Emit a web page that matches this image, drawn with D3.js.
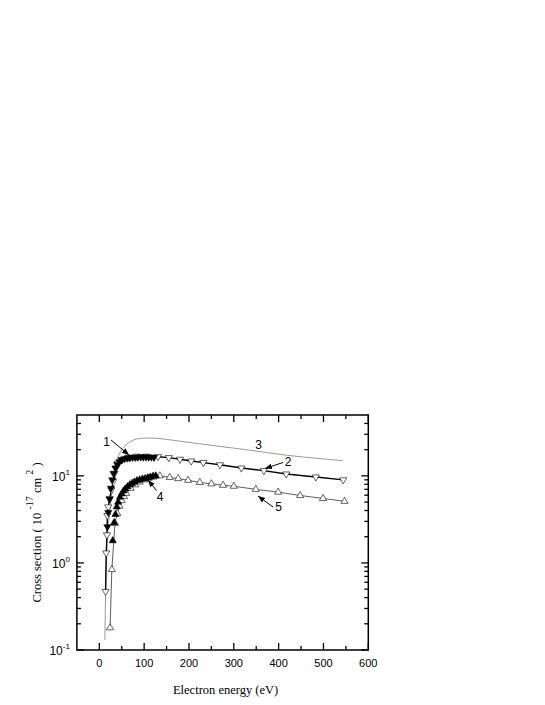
<!DOCTYPE html>
<html><head><meta charset="utf-8">
<script src="https://cdn.jsdelivr.net/npm/d3@7"></script>
<style>body{margin:0;background:#fff}</style>
</head><body>
<svg id="c" width="545" height="705"></svg>
<script>
// ---- data (energy eV, cross section 1e-17 cm^2) ----
const s1E = [18,20,23,26,29,32,36,40,45,50,56,62,68,74,80,86,92,98,104,110,116,122];
const s1V = [2.6,3.8,5.4,7.2,9.0,10.6,12.3,13.5,14.5,15.2,15.7,16.0,16.1,16.3,16.3,16.4,16.5,16.4,16.5,16.4,16.4,16.3];

const s2E = [14,15.5,17,18,20,23,27,31,34,37,41,50,65,83,105,131,155,180,205,232,269,317,367,417,483,544];
const s2V = [0.47,1.3,2.1,3.5,4.4,5.5,6.9,8.6,10.7,12.2,14,15.4,16.4,16.8,16.8,16.6,16.2,15.5,14.8,14.2,13.4,12.3,11.5,10.5,9.7,9.0];

const s3E = [12.5,14,16,18,21,24,28,32,36,42,50,60,70,83,100,115,140,180,220,269,320,370,420,480,544];
const s3V = [0.13,0.5,1.2,2.0,3.0,4.1,6.5,9.5,12.8,16.5,19.9,22.8,24.8,26.5,27.1,27.2,26.6,25,23.5,21.8,20.2,18.6,17.2,16,14.9];

const s4E = [30,33,36,39,42,46,50,54,58,63,68,73,78,84,90,96,102,108,114,120,126];
const s4V = [1.8,2.9,3.6,4.4,5.0,5.7,6.2,6.7,7.1,7.5,7.9,8.2,8.5,8.8,9.0,9.2,9.3,9.5,9.7,9.9,10.0];

const s5E = [24,28,35,40,45,50,55,60,70,80,90,100,110,120,135,157,176,198,224,250,276,300,349,399,448,499,547];
const s5V = [0.18,0.84,2.85,3.7,4.5,5.2,5.8,6.3,7.2,7.9,8.5,9.0,9.4,9.7,10.0,9.6,9.3,8.9,8.4,8.1,7.8,7.6,7.0,6.5,5.95,5.5,5.1];

const xTicks = [0,100,200,300,400,500,600];
const xMinor = [50,150,250,350,450,550];
const yTicks = [0.1,1,10];
const yTickExp = ["-1","0","1"];
const yMinor = [0.2,0.3,0.4,0.5,0.6,0.7,0.8,0.9,2,3,4,5,6,7,8,9,20,30,40];

// ---- layout ----
const L = 76.9, R = 368.3, T = 415, B = 650;
const svg = d3.select("#c");
const x = d3.scaleLinear().domain([-50,600]).range([L,R]);
const y = d3.scaleLog().domain([0.1,50]).range([B,T]);

const zip = (E,V) => E.map((e,i)=>({e, v:V[i]}));
const line = d3.line().x(d=>x(d.e)).y(d=>y(d.v));

// series 3 gray line
svg.append("path").datum(zip(s3E,s3V)).attr("d", line.curve(d3.curveMonotoneX))
  .attr("fill","none").attr("stroke","#9a9a9a").attr("stroke-width",1);
line.curve(d3.curveLinear);
// series 5 line
svg.append("path").datum(zip(s5E,s5V)).attr("d", line)
  .attr("fill","none").attr("stroke","#333").attr("stroke-width",0.8);
// series 2 line
svg.append("path").datum(zip(s2E,s2V)).attr("d", line)
  .attr("fill","none").attr("stroke","#000").attr("stroke-width",1.4);

const tri = d3.symbol().type(d3.symbolTriangle).size(22)();
function markers(E,V,fill,down){
  svg.append("g").selectAll("path").data(zip(E,V)).join("path")
    .attr("d", tri)
    .attr("transform", d=>`translate(${x(d.e)},${y(d.v)})${down?" rotate(180)":""}`)
    .attr("fill", fill).attr("stroke","#000").attr("stroke-width",0.6);
}
markers(s5E,s5V,"#fff",false);
markers(s2E,s2V,"#fff",true);
markers(s4E,s4V,"#000",false);
markers(s1E,s1V,"#000",true);

// ---- frame & ticks ----
svg.append("rect").attr("x",L).attr("y",T).attr("width",R-L).attr("height",B-T)
  .attr("fill","none").attr("stroke","#000").attr("stroke-width",1.5);

const tk = svg.append("g").attr("stroke","#000").attr("stroke-width",1.3);
function vt(v,len){
  tk.append("line").attr("x1",x(v)).attr("x2",x(v)).attr("y1",B).attr("y2",B-len);
  tk.append("line").attr("x1",x(v)).attr("x2",x(v)).attr("y1",T).attr("y2",T+len);
}
function ht(v,len){
  tk.append("line").attr("y1",y(v)).attr("y2",y(v)).attr("x1",L).attr("x2",L+len);
  tk.append("line").attr("y1",y(v)).attr("y2",y(v)).attr("x1",R).attr("x2",R-len);
}
xTicks.forEach(v=>vt(v,7)); xMinor.forEach(v=>vt(v,4));
yTicks.forEach(v=>ht(v,7)); yMinor.forEach(v=>ht(v,4));

// tick labels
svg.append("g").selectAll("text").data(xTicks).join("text")
  .attr("x",d=>x(d)).attr("y",B+17).attr("text-anchor","middle")
  .attr("font-family","Liberation Sans, Arial, sans-serif").attr("font-size",11)
  .text(d=>d);
yTicks.forEach((v,i)=>{
  const t = svg.append("text").attr("x",L-7).attr("y",y(v)+5).attr("text-anchor","end")
    .attr("font-family","Liberation Sans, Arial, sans-serif").attr("font-size",12);
  t.append("tspan").text("10");
  t.append("tspan").attr("font-size",8).attr("dy",-6).text(yTickExp[i]);
});

// axis titles
svg.append("text").attr("x",(L+R)/2+3).attr("y",694).attr("text-anchor","middle")
  .attr("font-family","Liberation Serif, Times New Roman, serif").attr("font-size",12.5)
  .text("Electron energy (eV)");
const yt = svg.append("text").attr("transform",`translate(41,${(T+B)/2}) rotate(-90)`)
  .attr("text-anchor","middle")
  .attr("font-family","Liberation Serif, Times New Roman, serif").attr("font-size",12.5);
yt.append("tspan").text("Cross section ( 10 ");
yt.append("tspan").attr("font-size",10).attr("dy",-8).text("-17");
yt.append("tspan").attr("dy",8).text(" cm ");
yt.append("tspan").attr("font-size",10).attr("dy",-8).text("2");
yt.append("tspan").attr("dy",8).text(" )");

// ---- annotations ----
svg.append("defs").append("marker").attr("id","ah").attr("viewBox","0 0 10 10")
  .attr("refX",10).attr("refY",5).attr("markerWidth",7).attr("markerHeight",7)
  .attr("orient","auto").attr("markerUnits","userSpaceOnUse")
  .append("path").attr("d","M0,1 L10,5 L0,9 Z").attr("fill","#000");
const ann = [
  {t:"1", tx:106.5, ty:445.5, x1:111, y1:440, x2:129, y2:455},
  {t:"2", tx:288,   ty:465.5, x1:283, y1:462.5, x2:265, y2:468.5},
  {t:"4", tx:160,   ty:501,   x1:156.5, y1:490.5, x2:148, y2:480},
  {t:"5", tx:278.5, ty:510.5, x1:273, y1:507, x2:258, y2:496}
];
ann.forEach(a=>{
  svg.append("line").attr("x1",a.x1).attr("y1",a.y1).attr("x2",a.x2).attr("y2",a.y2)
    .attr("stroke","#000").attr("stroke-width",1).attr("marker-end","url(#ah)");
  svg.append("text").attr("x",a.tx).attr("y",a.ty).attr("text-anchor","middle")
    .attr("font-family","Liberation Sans, Arial, sans-serif").attr("font-size",12).text(a.t);
});
svg.append("text").attr("x",258.5).attr("y",449).attr("text-anchor","middle")
  .attr("font-family","Liberation Sans, Arial, sans-serif").attr("font-size",12).text("3");
</script>
</body></html>
